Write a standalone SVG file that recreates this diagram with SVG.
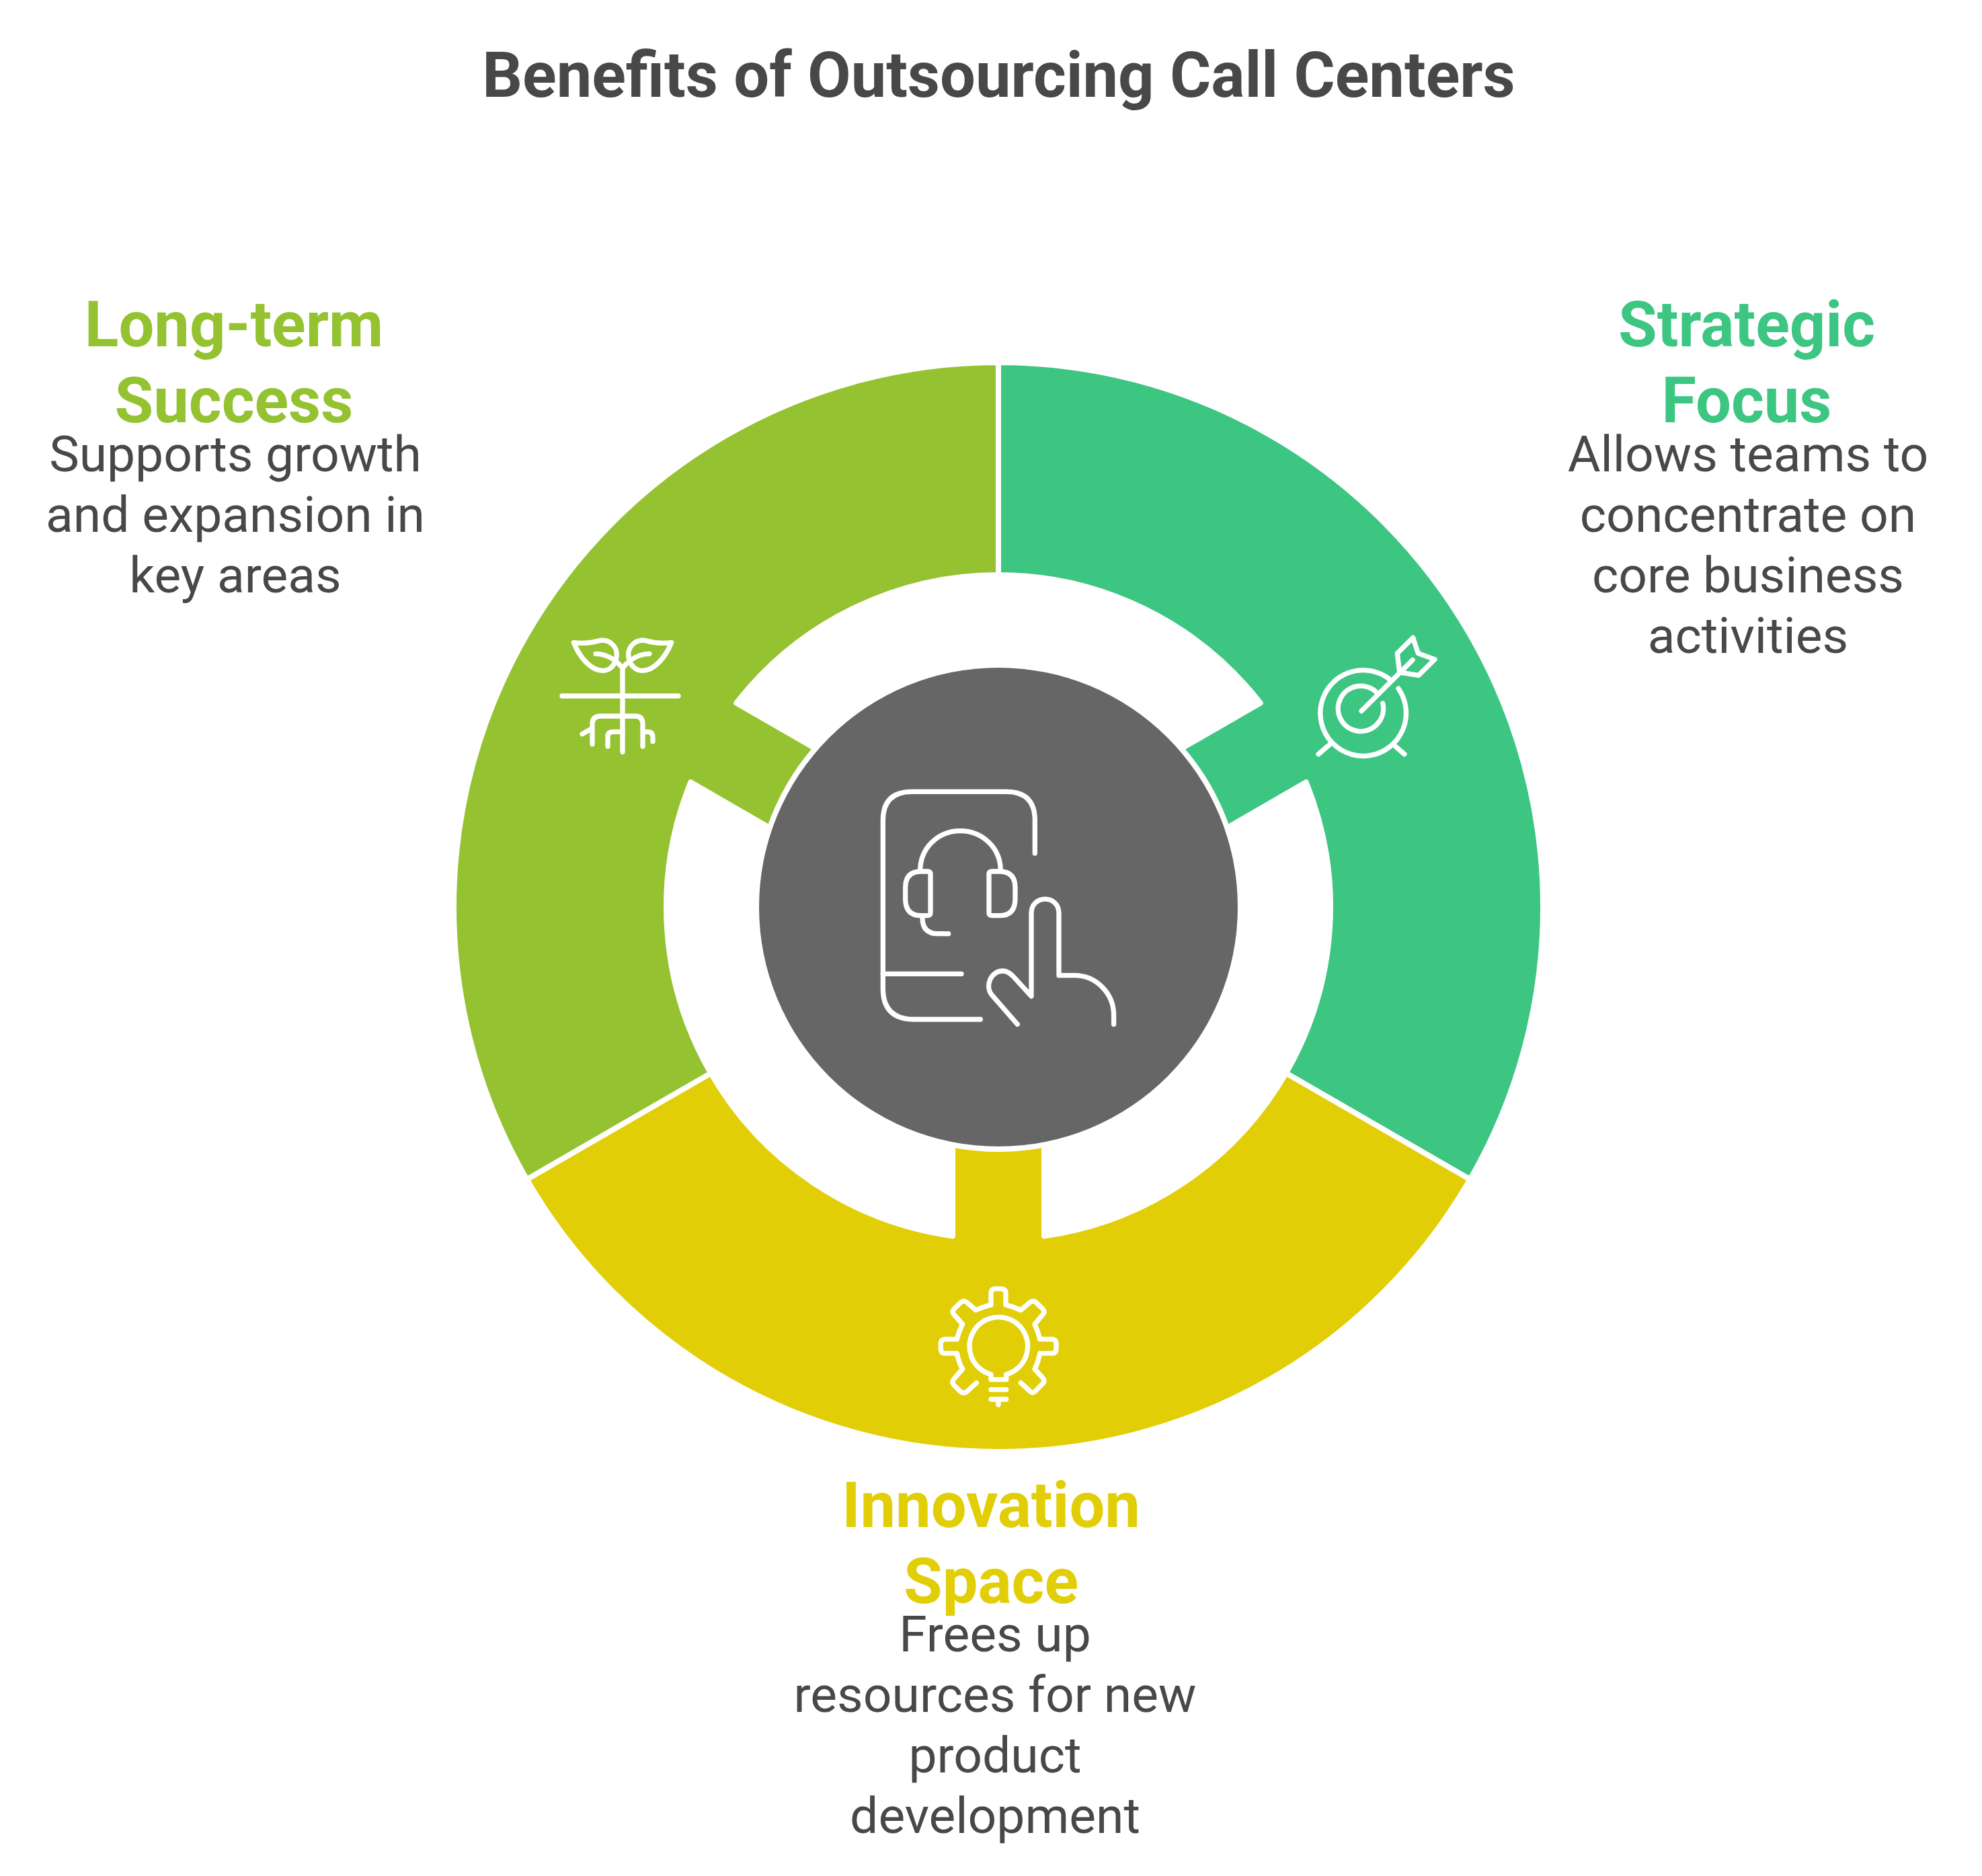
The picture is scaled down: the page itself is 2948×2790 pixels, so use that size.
<svg xmlns="http://www.w3.org/2000/svg" width="2948" height="2790" viewBox="0 0 2948 2790">
<style>
text{font-family:Roboto,"Liberation Sans",sans-serif;text-anchor:middle}
.t{font-size:93.75px;font-weight:700;fill:#484848}
.h{font-size:93.75px;font-weight:700}
.d{font-size:75px;fill:#484848}
.seg{stroke:#fff;stroke-width:8;stroke-linejoin:round}
.i{fill:none;stroke:#fff;stroke-width:22;stroke-linecap:round;stroke-linejoin:round}
</style>
<defs><path id="seg" class="seg" d="M0 -810A810 810 0 0 1 701.500 405L427.800 247A494 494 0 0 0 457.700 -185.750L340.100 -117.850A360 360 0 0 0 272.100 -235.650L389.700 -303.550A494 494 0 0 0 0 -494Z"/></defs>
<rect width="2948" height="2790" fill="#fff"/>
<text id="title" class="t" x="1485.500" y="144">Benefits of Outsourcing Call Centers</text>
<g id="strategic-focus">
<use href="#seg" transform="translate(1485 1349)" fill="#3DC582"/>
<g class="i" transform="translate(1920 920) scale(.3333)">
<path d="M440 270A191.500 191.500 0 1 0 480 312"/><path d="M383 330A101 101 0 1 0 410 378"/><path d="M315 412L543 185"/>
<path d="M475 155L545 85L568 155L642 182L570 253L485 240Z"/><path d="M175 560L123 605M455 560L507 605"/>
</g>
<text class="h" fill="#3DC582"><tspan x="2598" y="515">Strategic</tspan><tspan x="2598" y="628">Focus</tspan></text>
<text class="d"><tspan x="2600" y="701">Allows teams to</tspan><tspan x="2600" y="791">concentrate on</tspan><tspan x="2600" y="881">core business</tspan><tspan x="2600" y="971">activities</tspan></text>
</g>
<g id="innovation-space">
<use href="#seg" transform="translate(1485 1349) rotate(120)" fill="#E2CE07"/>
<g class="i" transform="translate(1370 1890) scale(.3333)">
<path d="M312 462V485H380V462A130 130 0 1 0 312 462Z"/>
<path d="M312 530H380M312 573H380M345 573V597"/>
<path d="M247 500L203 540Q190 550 175 538L145 508Q135 495 147 482L185 438Q168 410 160 368H110Q88 368 88 347V325Q88 305 110 305H160Q168 270 185 238L147 195Q135 183 147 170L178 140Q190 130 203 140L245 175Q275 160 312 152V100Q312 80 332 80H355Q378 80 378 100V152Q412 160 445 175L487 140Q500 130 512 140L543 170Q555 183 543 195L507 238Q522 270 530 305H582Q603 305 603 325V347Q603 368 582 368H530Q522 410 507 438L543 478Q555 490 543 503L512 535Q500 550 487 538L445 500"/>
</g>
<text class="h" fill="#E2CE07"><tspan x="1474" y="2271">Innovation</tspan><tspan x="1474" y="2384">Space</tspan></text>
<text class="d"><tspan x="1480" y="2456">Frees up</tspan><tspan x="1480" y="2546">resources for new</tspan><tspan x="1480" y="2636">product</tspan><tspan x="1480" y="2726">development</tspan></text>
</g>
<g id="long-term-success">
<use href="#seg" transform="translate(1485 1349) rotate(240)" fill="#94C231"/>
<g class="i" transform="translate(810 920) scale(.3333)">
<path d="M78 345H597M348 220V595"/>
<path d="M130 107C170 112 210 108 245 98C290 90 322 125 322 160C322 205 290 232 260 232C205 232 155 170 130 107Z"/>
<path d="M566 107C526 112 486 108 451 98C406 90 374 125 374 160C374 205 406 232 436 232C491 232 541 170 566 107Z"/>
<path d="M228 157C270 157 310 175 348 220C386 175 426 157 468 157"/>
<path d="M213 560V470Q213 435 250 435H405Q438 435 438 470V570M168 515L213 490M282 570V525Q282 505 305 505H348M438 505H460Q483 505 483 530V548"/>
</g>
<text class="h" fill="#94C231"><tspan x="348" y="515">Long-term</tspan><tspan x="348" y="628">Success</tspan></text>
<text class="d"><tspan x="350" y="701">Supports growth</tspan><tspan x="350" y="791">and expansion in</tspan><tspan x="350" y="881">key areas</tspan></text>
</g>
<g id="center">
<circle cx="1485" cy="1349" r="356" fill="#666"/>
<g class="i" transform="translate(1240 1120) scale(.3333)">
<path d="M898 447V300Q898 172 770 172H350Q220 172 220 300V1050Q220 1188 360 1188H655"/>
<path d="M220 985H570"/>
<path d="M386 525C386 420 470 347 565 347C660 347 745 420 745 525"/>
<path d="M432 540V712Q432 725 418 725H390Q320 725 320 650V600Q320 528 390 528H418Q432 528 432 540Z"/>
<path d="M693 540V712Q693 725 707 725H740Q810 725 810 650V600Q810 528 740 528H707Q693 528 693 540Z"/>
<path d="M396 735Q396 806 465 806H512"/>
<path d="M820 1210L705 1078C675 1040 700 972 755 972C775 972 790 985 800 995L882 1085V715C882 630 1005 630 1005 715V992H1075C1170 992 1250 1070 1250 1170V1210"/>
</g>
</g>
</svg>
